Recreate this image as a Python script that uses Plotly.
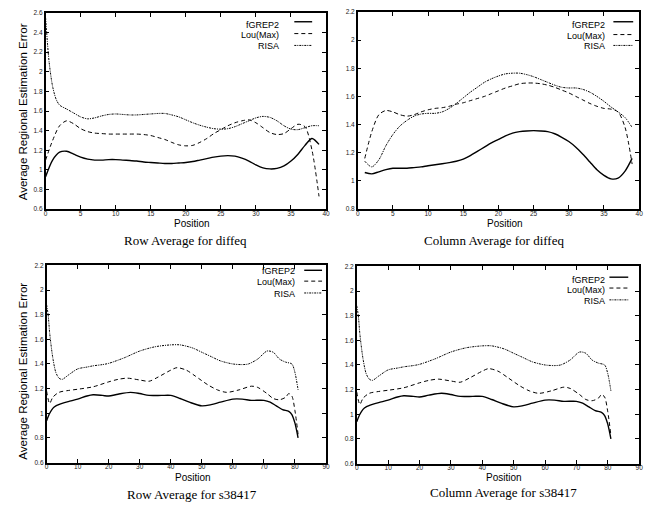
import plotly.graph_objects as go

W, H = 659, 509

# ---------------- data ----------------
# Panel 1: Row Average for diffeq
rd_x_fgrep = list(range(0, 40))
rd_fgrep = [0.93, 1.10, 1.18, 1.19, 1.16, 1.13, 1.11, 1.10, 1.10, 1.105,
            1.105, 1.10, 1.095, 1.09, 1.08, 1.075, 1.07, 1.065, 1.065, 1.07,
            1.075, 1.085, 1.10, 1.115, 1.13, 1.14, 1.145, 1.14, 1.12, 1.09,
            1.05, 1.02, 1.01, 1.015, 1.04, 1.09, 1.16, 1.25, 1.32, 1.26]
rd_x_lou = list(range(0, 40))
rd_lou = [1.10, 1.30, 1.45, 1.50, 1.47, 1.42, 1.39, 1.375, 1.37, 1.365,
          1.365, 1.365, 1.365, 1.365, 1.36, 1.35, 1.33, 1.31, 1.28, 1.255,
          1.245, 1.25, 1.28, 1.32, 1.37, 1.41, 1.45, 1.48, 1.50, 1.51,
          1.48, 1.43, 1.38, 1.36, 1.37, 1.42, 1.465, 1.44, 1.20, 0.73]
rd_x_risa = [0, 0.5, 1, 1.5, 2, 3, 4, 5, 6, 7, 8, 9, 10, 11, 12, 13, 14, 15, 16,
             17, 18, 19, 20, 21, 22, 23, 24, 25, 26, 27, 28, 29, 30, 31, 32,
             33, 34, 35, 36, 37, 38, 39]
rd_risa = [2.55, 2.10, 1.85, 1.72, 1.66, 1.62, 1.58, 1.54, 1.52, 1.53, 1.55,
           1.565, 1.57, 1.565, 1.56, 1.56, 1.565, 1.57, 1.575, 1.575, 1.56,
           1.54, 1.51, 1.48, 1.455, 1.435, 1.42, 1.415, 1.42, 1.44, 1.47,
           1.50, 1.53, 1.545, 1.535, 1.50, 1.45, 1.415, 1.41, 1.43, 1.45, 1.45]

# Panel 2: Column Average for diffeq
cd_x = list(range(1, 40))
cd_fgrep = [1.06, 1.05, 1.065, 1.08, 1.09, 1.09, 1.09, 1.095, 1.10, 1.108,
            1.115, 1.122, 1.13, 1.14, 1.155, 1.18, 1.21, 1.24, 1.27, 1.295,
            1.32, 1.34, 1.35, 1.355, 1.357, 1.355, 1.35, 1.335, 1.31, 1.28,
            1.24, 1.19, 1.135, 1.08, 1.04, 1.015, 1.02, 1.07, 1.16]
cd_lou = [1.16, 1.35, 1.47, 1.50, 1.49, 1.47, 1.46, 1.47, 1.49, 1.505,
          1.515, 1.52, 1.53, 1.545, 1.555, 1.57, 1.585, 1.60, 1.62, 1.64,
          1.66, 1.675, 1.69, 1.695, 1.695, 1.69, 1.68, 1.665, 1.645, 1.625,
          1.60, 1.575, 1.55, 1.53, 1.515, 1.51, 1.49, 1.38, 1.12]
cd_risa = [1.14, 1.10, 1.15, 1.25, 1.33, 1.39, 1.43, 1.46, 1.475, 1.48,
           1.48, 1.49, 1.515, 1.55, 1.59, 1.63, 1.665, 1.70, 1.725, 1.745,
           1.76, 1.765, 1.765, 1.755, 1.74, 1.72, 1.70, 1.68, 1.665, 1.66,
           1.66, 1.65, 1.63, 1.60, 1.565, 1.525, 1.49, 1.45, 1.38]

# Panel 3: Row Average for s38417
rs_x_fgrep = [0, 1, 2, 3, 5, 7, 10, 13, 15, 18, 20, 23, 27, 30, 33, 37, 40, 43,
              46, 50, 53, 56, 60, 63, 66, 70, 72, 74, 76, 78, 79, 80, 81]
rs_fgrep = [0.94, 1.00, 1.04, 1.06, 1.08, 1.095, 1.115, 1.14, 1.15, 1.145,
            1.14, 1.155, 1.17, 1.16, 1.145, 1.145, 1.145, 1.12, 1.09, 1.06,
            1.07, 1.09, 1.115, 1.115, 1.105, 1.105, 1.09, 1.06, 1.03, 1.015,
            0.99, 0.92, 0.80]
rs_x_lou = [0, 1, 2, 4, 7, 10, 15, 20, 23, 26, 30, 33, 36, 40, 42, 45, 48, 52,
            55, 58, 62, 66, 68, 71, 73, 75, 77, 78, 79, 80, 81]
rs_lou = [1.18, 1.08, 1.13, 1.17, 1.185, 1.195, 1.215, 1.255, 1.275, 1.285,
          1.27, 1.26, 1.295, 1.35, 1.37, 1.35, 1.30, 1.23, 1.19, 1.17, 1.19,
          1.22, 1.21, 1.16, 1.12, 1.11, 1.13, 1.16, 1.14, 1.02, 0.83]
rs_x_risa = [0, 0.5, 1, 2, 3, 4, 5, 7, 10, 13, 15, 18, 20, 25, 30, 35, 40, 43,
             47, 50, 53, 56, 60, 63, 65, 68, 71, 73, 75, 77, 79, 80, 81]
rs_risa = [1.88, 1.80, 1.65, 1.45, 1.33, 1.285, 1.275, 1.31, 1.36, 1.375,
           1.385, 1.395, 1.405, 1.45, 1.505, 1.54, 1.555, 1.555, 1.53, 1.495,
           1.46, 1.425, 1.40, 1.395, 1.40, 1.44, 1.505, 1.495, 1.44, 1.415,
           1.40, 1.33, 1.19]

# Panel 4: Column Average for s38417
cs_x_fgrep = list(rs_x_fgrep)
cs_fgrep = [0.94, 1.00, 1.04, 1.06, 1.08, 1.095, 1.115, 1.14, 1.15, 1.145,
            1.14, 1.155, 1.17, 1.16, 1.145, 1.145, 1.145, 1.12, 1.09, 1.06,
            1.07, 1.09, 1.115, 1.115, 1.105, 1.105, 1.09, 1.06, 1.03, 1.015,
            0.99, 0.92, 0.80]
cs_x_lou = list(rs_x_lou)
cs_lou = [1.18, 1.08, 1.13, 1.17, 1.185, 1.195, 1.215, 1.255, 1.275, 1.285,
          1.27, 1.26, 1.295, 1.35, 1.37, 1.35, 1.30, 1.23, 1.19, 1.17, 1.19,
          1.22, 1.21, 1.16, 1.12, 1.11, 1.13, 1.16, 1.14, 1.02, 0.83]
cs_x_risa = list(rs_x_risa)
cs_risa = [1.88, 1.80, 1.65, 1.45, 1.33, 1.285, 1.275, 1.31, 1.36, 1.375,
           1.385, 1.395, 1.405, 1.45, 1.505, 1.54, 1.555, 1.555, 1.53, 1.495,
           1.46, 1.425, 1.40, 1.395, 1.40, 1.44, 1.505, 1.495, 1.44, 1.415,
           1.40, 1.33, 1.19]

series_names = ["fGREP2", "Lou(Max)", "RISA"]
titles = ["Row Average for diffeq", "Column Average for diffeq",
          "Row Average for s38417", "Column Average for s38417"]
x_label = "Position"
y_label = "Average Regional Estimation Error"

x_ticks_diffeq = [0, 5, 10, 15, 20, 25, 30, 35, 40]
x_ticks_s38417 = [0, 10, 20, 30, 40, 50, 60, 70, 80, 90]
y_ticks_a = [0.6, 0.8, 1.0, 1.2, 1.4, 1.6, 1.8, 2.0, 2.2, 2.4, 2.6]
y_text_a = ["0.6", "0.8", "1", "1.2", "1.4", "1.6", "1.8", "2", "2.2", "2.4", "2.6"]
y_ticks_b = [0.8, 1.0, 1.2, 1.4, 1.6, 1.8, 2.0, 2.2]
y_text_b = ["0.8", "1", "1.2", "1.4", "1.6", "1.8", "2", "2.2"]
y_ticks_c = [0.6, 0.8, 1.0, 1.2, 1.4, 1.6, 1.8, 2.0, 2.2]
y_text_c = ["0.6", "0.8", "1", "1.2", "1.4", "1.6", "1.8", "2", "2.2"]

# ---------------- styling ----------------
SANS = "Liberation Sans, Arial, sans-serif"
SERIF = "Liberation Serif, Times New Roman, serif"
styles = [dict(width=1.4, dash="solid"),
          dict(width=1.0, dash="4px,3px"),
          dict(width=1.0, dash="2px,1px,1px,1px")]

def px_x(p):
    return p / W

def px_y(p):
    return 1 - p / H

# panel boxes in pixels: left, right, top, bottom
boxes = [(44, 327, 9, 208), (359, 643, 8, 208), (45, 327, 265, 465), (358, 643, 266, 466)]

panels = [
    ([rd_x_fgrep, rd_x_lou, rd_x_risa], [rd_fgrep, rd_lou, rd_risa],
     [0, 40], [0.6, 2.6], x_ticks_diffeq, y_ticks_a, y_text_a),
    ([cd_x, cd_x, cd_x], [cd_fgrep, cd_lou, cd_risa],
     [0, 40], [0.8, 2.2], x_ticks_diffeq, y_ticks_b, y_text_b),
    ([rs_x_fgrep, rs_x_lou, rs_x_risa], [rs_fgrep, rs_lou, rs_risa],
     [0, 90], [0.6, 2.2], x_ticks_s38417, y_ticks_c, y_text_c),
    ([cs_x_fgrep, cs_x_lou, cs_x_risa], [cs_fgrep, cs_lou, cs_risa],
     [0, 90], [0.6, 2.2], x_ticks_s38417, y_ticks_c, y_text_c),
]

# legend placement per panel (pixels): text right edge, line x0, x1, line ys, text ys
legend_pos = [
    (282, 295, 313, [18, 30, 42], [21, 31, 43]),
    (611, 617, 637, [18, 31, 42], [21, 32, 43]),
    (298, 305, 323, [270, 281, 293], [271, 282, 294]),
    (611, 613, 632, [277, 288, 300], [280, 290, 301]),
]
title_pos = [(185, 240), (497, 240), (192, 497), (506, 495)]
xlabel_pos = [(192, 223), (508, 223), (193, 480), (507, 480)]
ylabel_pos = [(21, 109), (21, 372)]

fig = go.Figure()
layout = dict(width=W, height=H, margin=dict(l=0, r=0, t=0, b=0),
              paper_bgcolor="white", plot_bgcolor="white", showlegend=False,
              font=dict(family=SANS, color="black"))
annotations = []
shapes = []

for i, (xs, ys, xr, yr, xt, yt, ytt) in enumerate(panels):
    n = "" if i == 0 else str(i + 1)
    l, r, t, b = boxes[i]
    for k in range(3):
        fig.add_trace(go.Scatter(
            x=xs[k], y=ys[k], mode="lines", name=series_names[k],
            line=dict(color="black", shape="spline", smoothing=0.8, **styles[k]),
            xaxis="x" + n, yaxis="y" + n, hoverinfo="skip"))
    axis_common = dict(showline=True, linecolor="black", linewidth=1.5, mirror="ticks",
                       ticks="inside", ticklen=4, tickwidth=1, tickcolor="black",
                       showgrid=False, zeroline=False,
                       tickfont=dict(family=SANS, size=6.5, color="#222"))
    layout["xaxis" + n] = dict(domain=[px_x(l), px_x(r)], range=xr, anchor="y" + n,
                               tickmode="array", tickvals=xt, ticklabelstandoff=-3,
                               **axis_common)
    layout["yaxis" + n] = dict(domain=[px_y(b), px_y(t)], range=yr, anchor="x" + n,
                               tickmode="array", tickvals=yt, ticktext=ytt, **axis_common)
    # legend
    tx, lx0, lx1, lys, tys = legend_pos[i]
    for k in range(3):
        annotations.append(dict(text=series_names[k], x=px_x(tx), y=px_y(tys[k]),
                                xref="paper", yref="paper", xanchor="right", yanchor="middle",
                                showarrow=False, font=dict(family=SANS, size=9)))
        shapes.append(dict(type="line", xref="paper", yref="paper",
                           x0=px_x(lx0), x1=px_x(lx1), y0=px_y(lys[k]), y1=px_y(lys[k]),
                           line=dict(color="black", **styles[k])))
    # subtitle
    annotations.append(dict(text=titles[i], x=px_x(title_pos[i][0]), y=px_y(title_pos[i][1]),
                            xref="paper", yref="paper", xanchor="center", yanchor="middle",
                            showarrow=False, font=dict(family=SERIF, size=13)))
    annotations.append(dict(text=x_label, x=px_x(xlabel_pos[i][0]), y=px_y(xlabel_pos[i][1]),
                            xref="paper", yref="paper", xanchor="center", yanchor="middle",
                            showarrow=False, font=dict(family=SANS, size=10)))

for (xp, yp) in ylabel_pos:
    annotations.append(dict(text=y_label, x=px_x(xp), y=px_y(yp), xref="paper", yref="paper",
                            xanchor="center", yanchor="middle", textangle=-90,
                            showarrow=False, font=dict(family=SANS, size=11.5)))

layout["annotations"] = annotations
layout["shapes"] = shapes
fig.update_layout(**layout)
fig.write_html("out.html", config={"displayModeBar": False},
               post_script="document.body.style.margin='0';document.body.style.padding='0';")
